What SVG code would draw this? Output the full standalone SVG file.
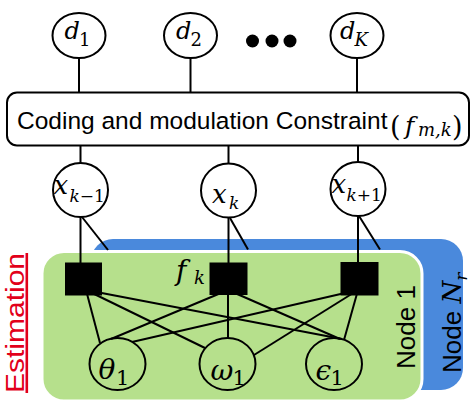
<svg xmlns="http://www.w3.org/2000/svg" width="474" height="407" viewBox="0 0 474 407">
<style>
.ln{stroke:#000;stroke-width:2;fill:none}
.var{fill:#fff;stroke:#000;stroke-width:2}
.var2{fill:none;stroke:#000;stroke-width:2}
.fac{fill:#000}
.sans{font-family:"Liberation Sans",Arial,sans-serif}
.mi{font-family:"DejaVu Serif",serif;font-style:italic}
.mn{font-family:"DejaVu Serif",serif;font-style:normal}
</style>
<rect width="474" height="407" fill="#fff"/>
<g id="node-Nr">
<rect x="91" y="239" width="372" height="151" rx="22" fill="#4a89dc"/>
<text class="sans" font-size="26" transform="translate(461,373) rotate(-90)">Node <tspan class="mi">N</tspan><tspan class="mi" font-size="17" dy="6">r</tspan></text>
</g>
<g id="node-1">
<rect x="42" y="251.5" width="380" height="149.5" rx="22" fill="#b6e08c" stroke="#fff" stroke-width="3"/>
<text class="sans" font-size="26" text-anchor="middle" transform="translate(415,327) rotate(-90)">Node 1</text>
</g>
<g id="estimation">
<text class="sans" font-size="26" fill="#e2001a" text-anchor="middle" text-decoration="underline" textLength="140" lengthAdjust="spacingAndGlyphs" transform="translate(23.5,323) rotate(-90)">Estimation</text>
</g>
<g id="connectors">
<line class="ln" x1="79" y1="57.5" x2="79" y2="93"/>
<line class="ln" x1="190.5" y1="57.5" x2="190.5" y2="93"/>
<line class="ln" x1="357" y1="57.5" x2="357" y2="93"/>
<line class="ln" x1="80.5" y1="145" x2="80.5" y2="163"/>
<line class="ln" x1="228.5" y1="145" x2="228.5" y2="163.5"/>
<line class="ln" x1="358" y1="145" x2="358" y2="162"/>
<line class="ln" x1="80.5" y1="217" x2="80.5" y2="270"/>
<line class="ln" x1="228.5" y1="217.5" x2="228.5" y2="270"/>
<line class="ln" x1="358" y1="216" x2="358" y2="270"/>
<line class="ln" x1="82" y1="217" x2="108" y2="250"/>
<line class="ln" x1="230" y1="218" x2="248" y2="249.5"/>
<line class="ln" x1="359" y1="216" x2="380" y2="249.5"/>
<line class="ln" x1="86" y1="290" x2="100" y2="343"/>
<line class="ln" x1="86" y1="290" x2="205" y2="348"/>
<line class="ln" x1="86" y1="290" x2="342" y2="339"/>
<line class="ln" x1="228" y1="290" x2="111" y2="339"/>
<line class="ln" x1="228" y1="290" x2="228" y2="338"/>
<line class="ln" x1="228" y1="290" x2="340" y2="339"/>
<line class="ln" x1="358" y1="290" x2="132" y2="342"/>
<line class="ln" x1="358" y1="290" x2="254" y2="355"/>
<line class="ln" x1="358" y1="290" x2="344" y2="340"/>
</g>
<g id="node-d1">
<ellipse class="var" cx="79" cy="35.5" rx="26.5" ry="22.5"/>
<text><tspan class="mi" font-size="24" x="64.5" y="39">d</tspan><tspan class="mn" font-size="18" x="79" y="46">1</tspan></text>
</g>
<g id="node-d2">
<ellipse class="var" cx="190.5" cy="35.5" rx="26.5" ry="22.5"/>
<text><tspan class="mi" font-size="24" x="176" y="39">d</tspan><tspan class="mn" font-size="18" x="190.5" y="46">2</tspan></text>
</g>
<g id="ellipsis">
<circle cx="252.5" cy="41" r="6.5"/>
<circle cx="272" cy="41" r="6.5"/>
<circle cx="290" cy="41" r="6.5"/>
</g>
<g id="node-dK">
<ellipse class="var" cx="357" cy="35.5" rx="26.5" ry="22.5"/>
<text><tspan class="mi" font-size="24" x="340" y="39">d</tspan><tspan class="mi" font-size="18" x="354.5" y="46">K</tspan></text>
</g>
<g id="node-constraint">
<rect x="7" y="92.5" width="462" height="53" rx="10" fill="#fff" stroke="#000" stroke-width="2"/>
<text><tspan class="sans" font-size="24.5" x="17" y="128.5">Coding and modulation Constraint</tspan><tspan class="mn" font-size="27" x="390" y="135.5">(</tspan><tspan class="mi" font-size="25" x="405" y="134">f</tspan><tspan class="mi" font-size="18" x="418" y="135.5">m,k</tspan><tspan class="mn" font-size="27" x="452" y="135.5">)</tspan></text>
</g>
<g id="node-xkm1">
<ellipse class="var" cx="80.5" cy="190" rx="27.5" ry="27"/>
<text><tspan class="mi" font-size="26" x="53.5" y="194">x</tspan><tspan font-size="17" x="69.5" y="201.5"><tspan class="mi">k</tspan><tspan class="mn">−1</tspan></tspan></text>
</g>
<g id="node-xk">
<ellipse class="var" cx="228.5" cy="190.5" rx="27.5" ry="27"/>
<text><tspan class="mi" font-size="26" x="212" y="203">x</tspan><tspan class="mi" font-size="17" x="229" y="208.5">k</tspan></text>
</g>
<g id="node-xkp1">
<ellipse class="var" cx="358" cy="189" rx="27.5" ry="27"/>
<text><tspan class="mi" font-size="26" x="331.5" y="193">x</tspan><tspan font-size="17" x="346.5" y="201"><tspan class="mi">k</tspan><tspan class="mn">+1</tspan></tspan></text>
</g>
<g id="factor-km1"><rect class="fac" x="65" y="262.5" width="37" height="33"/></g>
<g id="factor-k">
<rect class="fac" x="209.5" y="262.5" width="38" height="32.5"/>
<text><tspan class="mi" font-size="28" x="176" y="280">f</tspan><tspan class="mi" font-size="18" x="194" y="283.5">k</tspan></text>
</g>
<g id="factor-kp1"><rect class="fac" x="340.5" y="262" width="38" height="33.5"/></g>
<g id="node-theta">
<ellipse class="var2" cx="117.5" cy="364" rx="28" ry="26"/>
<text><tspan class="mi" font-size="28" x="98.5" y="379">θ</tspan><tspan class="mn" font-size="21" x="116" y="385">1</tspan></text>
</g>
<g id="node-omega">
<ellipse class="var2" cx="227.5" cy="364" rx="28" ry="26"/>
<text><tspan class="mi" font-size="28" x="210.5" y="380">ω</tspan><tspan class="mn" font-size="21" x="232.5" y="385">1</tspan></text>
</g>
<g id="node-epsilon">
<ellipse class="var2" cx="334" cy="364" rx="28" ry="26"/>
<text><tspan class="mi" font-size="28" x="315.5" y="380">ϵ</tspan><tspan class="mn" font-size="21" x="330.5" y="385">1</tspan></text>
</g>
</svg>
